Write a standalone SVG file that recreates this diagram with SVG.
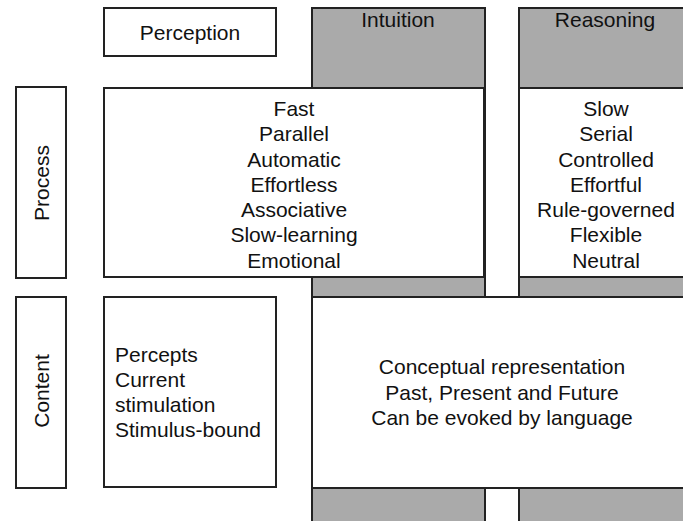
<svg xmlns="http://www.w3.org/2000/svg" width="683" height="521" viewBox="0 0 683 521">
<style>
.box{fill:#fff;stroke:#222;stroke-width:2}
.gray{fill:#aaaaaa;stroke:#222;stroke-width:2}
text{font-family:"Liberation Sans",Arial,sans-serif;font-size:21px;fill:#111}
.c{text-anchor:middle}
</style>
<rect width="683" height="521" fill="#fff"/>
<g id="intuition">
<rect class="gray" x="312" y="8" width="173" height="530"/>
<text class="c" x="398" y="27">Intuition</text>
</g>
<g id="reasoning">
<rect class="gray" x="519" y="8" width="200" height="530"/>
<text class="c" x="605" y="27">Reasoning</text>
</g>
<g id="perception">
<rect class="box" x="104" y="8" width="172" height="48"/>
<text class="c" x="190" y="40">Perception</text>
</g>
<g id="process">
<rect class="box" x="16" y="87" width="50" height="191"/>
<text class="c" transform="translate(48.5,183) rotate(-90)">Process</text>
</g>
<g id="content">
<rect class="box" x="16" y="297" width="50" height="191"/>
<text class="c" transform="translate(48.5,391) rotate(-90)">Content</text>
</g>
<g id="intuition-process">
<rect class="box" x="104" y="88" width="380" height="189"/>
<text class="c" x="294" y="115.7">Fast</text>
<text class="c" x="294" y="141">Parallel</text>
<text class="c" x="294" y="166.5">Automatic</text>
<text class="c" x="294" y="191.8">Effortless</text>
<text class="c" x="294" y="217">Associative</text>
<text class="c" x="294" y="242.3">Slow-learning</text>
<text class="c" x="294" y="267.7">Emotional</text>
</g>
<g id="reasoning-process">
<rect class="box" x="519" y="88" width="200" height="189"/>
<text class="c" x="606" y="115.7">Slow</text>
<text class="c" x="606" y="141">Serial</text>
<text class="c" x="606" y="166.5">Controlled</text>
<text class="c" x="606" y="191.8">Effortful</text>
<text class="c" x="606" y="217">Rule-governed</text>
<text class="c" x="606" y="242.3">Flexible</text>
<text class="c" x="606" y="267.7">Neutral</text>
</g>
<g id="perception-content">
<rect class="box" x="104" y="297" width="172" height="190"/>
<text x="115" y="361.7">Percepts</text>
<text x="115" y="386.7">Current</text>
<text x="115" y="412">stimulation</text>
<text x="115" y="437">Stimulus-bound</text>
</g>
<g id="conceptual-content">
<rect class="box" x="312" y="297" width="400" height="191"/>
<text class="c" x="502" y="374">Conceptual representation</text>
<text class="c" x="502" y="399.5">Past, Present and Future</text>
<text class="c" x="502" y="425">Can be evoked by language</text>
</g>
<g id="connectors"></g>
</svg>
